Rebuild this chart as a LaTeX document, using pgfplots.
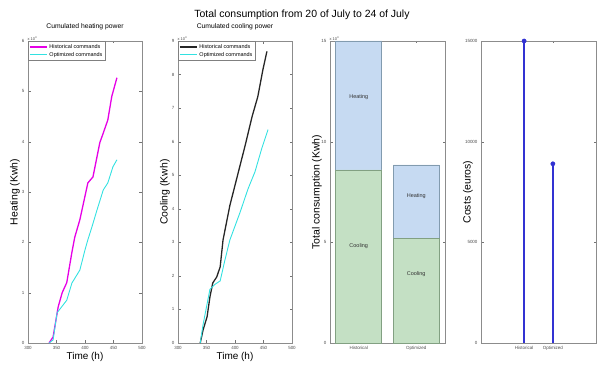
\documentclass[border=0pt]{standalone}
\usepackage{fontspec}
\setmainfont{Liberation Sans}
\usepackage{pgfplots}
\pgfplotsset{compat=1.18}
\definecolor{mag}{RGB}{230,0,230}
\definecolor{cyn}{RGB}{50,225,225}
\definecolor{heatf}{RGB}{198,218,242}
\definecolor{heate}{RGB}{130,155,175}
\definecolor{coolf}{RGB}{196,224,196}
\definecolor{coole}{RGB}{130,160,130}
\definecolor{stemb}{RGB}{50,50,210}
\pgfplotsset{
  panel/.style={
    scale only axis, width=114bp, height=302bp, anchor=south west,
    axis line style={black!45, line width=0.5pt},
    tick style={black!55, line width=0.3pt},
    tick align=inside, major tick length=2.5bp,
    ticklabel style={font=\fontsize{4.5}{5}\selectfont, text=black!70},
    /pgf/number format/assume math mode=true,
    /pgf/number format/1000 sep={},
    scaled ticks=false,
    every axis y label/.style={at={([xshift=-13bp]axis description cs:0,0.5)}, rotate=90, anchor=center, font=\fontsize{10.5}{12}\selectfont},
    every axis x label/.style={at={([yshift=-14bp]axis description cs:0.5,0)}, anchor=center, font=\fontsize{10}{12}\selectfont},
    title style={at={([yshift=8bp]axis description cs:0.5,1)}, anchor=center, font=\fontsize{6.8}{7.5}\selectfont},
    legend style={at={(rel axis cs:0,1)}, anchor=north west, font=\fontsize{5.5}{6}\selectfont, draw=black!50, inner sep=1bp, row sep=-1.5bp, legend cell align=left},
    clip=false,
  },
  tenfour/.style={after end axis/.append code={\node[anchor=south west, font=\fontsize{4}{4}\selectfont, text=black!70, inner sep=0.5bp] at (rel axis cs:-0.01,1) {x 10\textsuperscript{4}};}},
}
\begin{document}
\begin{tikzpicture}
\useasboundingbox (0,0) rectangle (604bp,365bp);
\node[font=\fontsize{10.5}{12}\selectfont] at (302bp,350bp) {Total consumption from 20 of July to 24 of July};
% Panel 1
\begin{axis}[panel, tenfour, at={(28bp,22bp)},
  xmin=300, xmax=500, ymin=0, ymax=6,
  xtick={300,350,400,450,500}, ytick={0,1,2,3,4,5,6},
  xlabel={Time (h)}, ylabel={Heating (Kwh)},
  title={Cumulated heating power}]
\addplot[mag, line width=1.3pt] coordinates {
(337,0) (344,0.12) (353,0.72) (360,1.0) (368,1.2) (377,1.8) (382,2.1) (391,2.45) (405,3.18) (414,3.3) (426,3.98) (432,4.17) (440,4.43) (447,4.9) (456,5.27)};
\addlegendentry{Historical commands}
\addplot[cyn, line width=0.9pt] coordinates {
(337,0) (344,0.06) (351,0.6) (368,0.85) (377,1.19) (391,1.45) (400,1.85) (405,2.05) (412,2.3) (421,2.64) (432,3.04) (440,3.18) (449,3.5) (456,3.64)};
\addlegendentry{Optimized commands}
\end{axis}
% Panel 2
\begin{axis}[panel, tenfour, at={(178bp,22bp)},
  xmin=300, xmax=500, ymin=0, ymax=9,
  xtick={300,350,400,450,500}, ytick={0,1,2,3,4,5,6,7,8,9},
  xlabel={Time (h)}, ylabel={Cooling (Kwh)},
  title={Cumulated cooling power}]
\addplot[black!85, line width=1.3pt] coordinates {
(339,0) (344,0.39) (351,0.78) (356,1.37) (361,1.79) (368,1.97) (374,2.27) (379,3.07) (391,4.1) (409,5.3) (418,5.9) (430,6.75) (440,7.34) (449,8.15) (456,8.69)};
\addlegendentry{Historical commands}
\addplot[cyn, line width=0.9pt] coordinates {
(339,0) (344,0.55) (356,1.6) (365,1.75) (374,1.85) (382,2.45) (391,3.07) (409,3.9) (423,4.6) (435,5.1) (447,5.8) (458,6.36)};
\addlegendentry{Optimized commands}
\end{axis}
% Panel 3
\begin{axis}[panel, tenfour, at={(330bp,22bp)}, width=115bp,
  xmin=0.5, xmax=2.5, ymin=0, ymax=15,
  xtick={1,2}, xticklabels={Historical,Optimized}, ytick={0,5,10,15},
  ylabel={Total consumption (Kwh)},
  ybar stacked, bar width=0.8,
  after end axis/.append code={
    \node[font=\fontsize{5.5}{6}\selectfont, text=black!80] at (axis cs:1,12.2) {Heating};
    \node[font=\fontsize{5.5}{6}\selectfont, text=black!80] at (axis cs:1,4.8) {Cooling};
    \node[font=\fontsize{5.5}{6}\selectfont, text=black!80] at (axis cs:2,7.3) {Heating};
    \node[font=\fontsize{5.5}{6}\selectfont, text=black!80] at (axis cs:2,3.4) {Cooling};
  }]
\addplot[fill=coolf, draw=coole, line width=0.6pt] coordinates {(1,8.6) (2,5.2)};
\addplot[fill=heatf, draw=heate, line width=0.6pt] coordinates {(1,6.4) (2,3.65)};
\end{axis}
% Panel 4
\begin{axis}[panel, at={(481bp,22bp)}, width=115bp,
  xmin=-0.5, xmax=3.5, ymin=0, ymax=15000,
  xtick={1,2}, xticklabels={Historical,Optimized}, ytick={0,5000,10000,15000},
  ylabel={Costs (euros)}]
\addplot[stemb, line width=1.3pt, ycomb, mark=*, mark size=2.2pt, mark options={fill=stemb, solid, line width=0.3pt}] coordinates {(1,15000) (2,8900)};
\end{axis}
\end{tikzpicture}
\end{document}
